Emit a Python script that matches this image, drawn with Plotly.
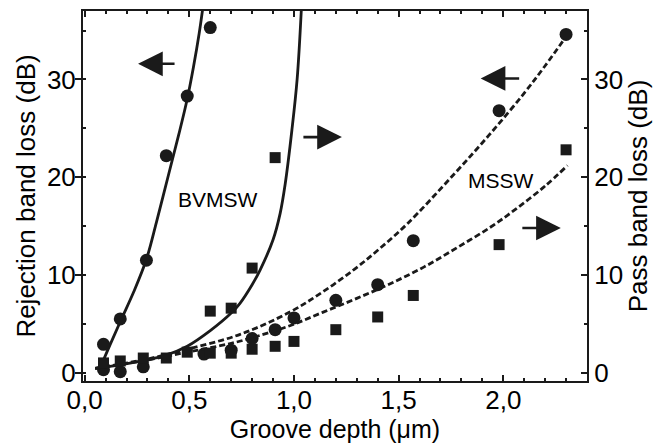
import plotly.graph_objects as go

# Measured points: groove depth (um) vs loss (dB)
depth_bv_rej = [0.09, 0.17, 0.295, 0.39, 0.49, 0.60]
loss_bv_rej = [2.9, 5.5, 11.5, 22.2, 28.3, 35.3]

depth_bv_pass = [0.09, 0.17, 0.28, 0.39, 0.49, 0.60, 0.70, 0.80, 0.91]
loss_bv_pass = [1.0, 1.2, 1.5, 1.5, 2.1, 6.3, 6.6, 10.7, 22.0]

depth_ms_rej = [0.09, 0.17, 0.28, 0.57, 0.70, 0.80, 0.91, 1.00, 1.20, 1.40, 1.57, 1.98, 2.30]
loss_ms_rej = [0.3, 0.1, 0.6, 1.9, 2.3, 3.5, 4.4, 5.6, 7.4, 9.0, 13.5, 26.8, 34.6]

depth_ms_pass = [0.60, 0.70, 0.80, 0.91, 1.00, 1.20, 1.40, 1.57, 1.98, 2.30]
loss_ms_pass = [2.0, 2.0, 2.4, 2.7, 3.2, 4.4, 5.7, 7.9, 13.1, 22.8]

# Fitted curves
fit_bv_rej_x = [0.07, 0.12, 0.176, 0.235, 0.295, 0.343, 0.40, 0.45, 0.49, 0.52, 0.547, 0.565]
fit_bv_rej_y = [0.3, 2.8, 5.5, 8.3, 11.6, 15.4, 20.2, 24.4, 28.0, 31.3, 34.7, 37.4]

fit_bv_pass_x = [0.05, 0.17, 0.295, 0.39, 0.49, 0.60, 0.70, 0.742, 0.80, 0.838, 0.90, 0.934, 0.958, 0.99, 1.015, 1.036]
fit_bv_pass_y = [0.45, 0.8, 1.3, 1.8, 2.7, 4.3, 6.1, 7.1, 9.0, 10.5, 13.6, 16.3, 19.3, 24.8, 30.0, 37.5]

fit_ms_rej_x = [0.05, 0.30, 0.49, 0.74, 0.98, 1.14, 1.29, 1.41, 1.54, 1.76, 1.94, 2.10, 2.20, 2.307]
fit_ms_rej_y = [0.45, 1.4, 2.4, 3.9, 6.2, 8.3, 10.6, 12.7, 15.2, 20.2, 24.5, 28.6, 31.4, 34.6]

fit_ms_pass_x = [0.05, 0.30, 0.49, 0.70, 0.82, 0.98, 1.14, 1.30, 1.46, 1.62, 1.78, 1.94, 2.07, 2.20, 2.307]
fit_ms_pass_y = [0.45, 1.3, 2.1, 3.0, 3.7, 4.8, 6.2, 7.6, 9.1, 10.8, 12.8, 14.9, 16.9, 19.1, 21.2]

x_tickvals = [0.0, 0.5, 1.0, 1.5, 2.0]
x_ticktext = ["0,0", "0,5", "1,0", "1,5", "2,0"]
y_tickvals = [0, 10, 20, 30]

INK = "#1a1a1a"
FONT = "Liberation Sans, Arial, sans-serif"

fig = go.Figure()

def curve(x, y, dash, axis):
    fig.add_trace(go.Scatter(
        x=x, y=y, mode="lines", yaxis=axis,
        line=dict(color=INK, width=2.8, dash=dash, shape="spline", smoothing=1.0),
        hoverinfo="skip"))

def points(x, y, symbol, size, axis):
    fig.add_trace(go.Scatter(
        x=x, y=y, mode="markers", yaxis=axis,
        marker=dict(symbol=symbol, size=size, color=INK, line=dict(width=0))))

curve(fit_bv_rej_x, fit_bv_rej_y, "solid", "y")
curve(fit_bv_pass_x, fit_bv_pass_y, "solid", "y2")
curve(fit_ms_rej_x, fit_ms_rej_y, "6px,3px", "y")
curve(fit_ms_pass_x, fit_ms_pass_y, "6px,3px", "y2")

points(depth_bv_rej, loss_bv_rej, "circle", 13, "y")
points(depth_ms_rej, loss_ms_rej, "circle", 13, "y")
points(depth_bv_pass, loss_bv_pass, "square", 11, "y2")
points(depth_ms_pass, loss_ms_pass, "square", 11, "y2")

y_range = [-0.85, 37.0]
tick_font = dict(size=26, family=FONT, color="black")

fig.update_layout(
    width=659, height=443,
    margin=dict(l=83, r=72, t=11, b=62, autoexpand=False),
    plot_bgcolor="white", paper_bgcolor="white",
    showlegend=False,
    font=dict(family=FONT, size=26, color="black"),
    xaxis=dict(
        range=[-0.008, 2.40], tickvals=x_tickvals, ticktext=x_ticktext,
        tickfont=tick_font, automargin=False, ticklabelstandoff=-5,
        ticks="inside", ticklen=6, tickwidth=1.5, tickcolor=INK,
        minor=dict(dtick=0.1, tick0=0, ticks="inside", ticklen=3, tickwidth=1.5, tickcolor=INK),
        showline=True, linewidth=2, linecolor=INK, mirror="ticks",
        showgrid=False, zeroline=False,
        title=dict(text="Groove depth (μm)", font=dict(size=25), standoff=0),
    ),
    yaxis=dict(
        range=y_range, tickvals=y_tickvals, tickfont=tick_font, automargin=False,
        ticklabelstandoff=-6,
        ticks="outside", ticklen=6, tickwidth=1.5, tickcolor=INK,
        minor=dict(dtick=5, tick0=0, ticks="inside", ticklen=3, tickwidth=1.5, tickcolor=INK),
        showline=True, linewidth=2, linecolor=INK,
        showgrid=False, zeroline=False,
        title=dict(text="Rejection band loss (dB)", font=dict(size=26), standoff=4),
    ),
    yaxis2=dict(
        range=y_range, tickvals=y_tickvals, overlaying="y", side="right",
        tickfont=tick_font, automargin=False,
        ticks="inside", ticklen=6, tickwidth=1.5, tickcolor=INK,
        minor=dict(dtick=5, tick0=0, ticks="inside", ticklen=3, tickwidth=1.5, tickcolor=INK),
        showline=True, linewidth=2, linecolor=INK,
        showgrid=False, zeroline=False,
        title=dict(text="Pass band loss (dB)", font=dict(size=26), standoff=4),
    ),
)

def arrow(x, y, ax, axis="y"):
    fig.add_annotation(
        x=x, y=y, xref="x", yref=axis, ax=ax, ay=0, text="",
        showarrow=True, arrowhead=2, arrowsize=1.9, arrowwidth=2.6,
        arrowcolor=INK, standoff=0)

arrow(0.255, 31.6, 38)
arrow(1.229, 24.1, -40, "y2")
arrow(1.892, 30.1, 40)
arrow(2.275, 14.8, -40, "y2")

fig.add_annotation(x=0.635, y=17.7, xref="x", yref="y", text="BVMSW",
                   showarrow=False, font=dict(size=21, family=FONT, color="black"))
fig.add_annotation(x=1.991, y=19.7, xref="x", yref="y", text="MSSW",
                   showarrow=False, font=dict(size=21, family=FONT, color="black"))

fig.write_html("out.html")
